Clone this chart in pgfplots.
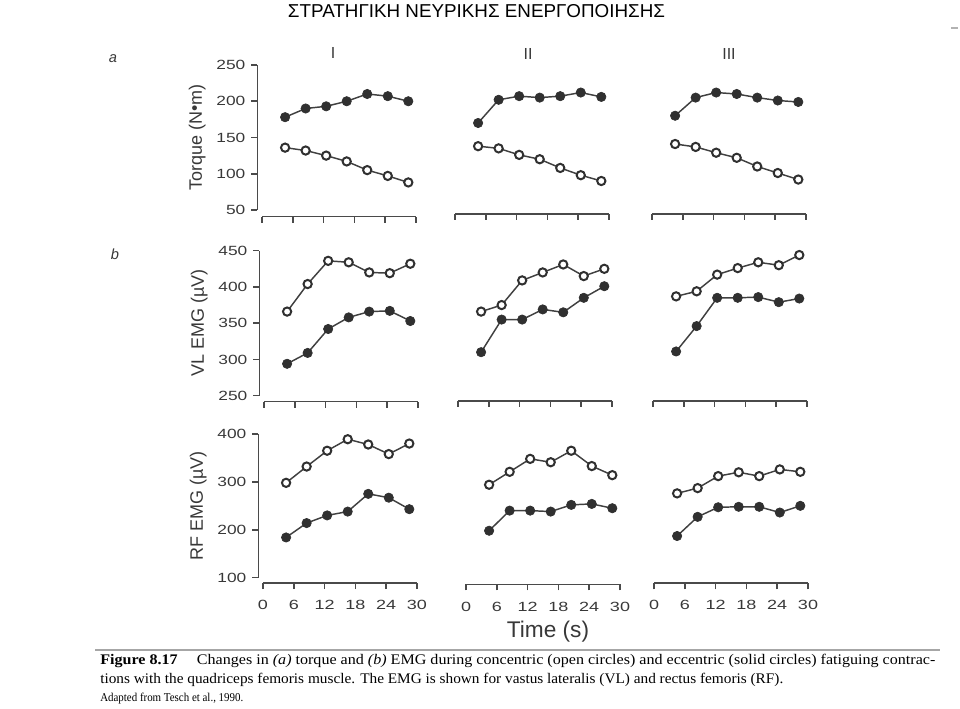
\documentclass[border=0pt]{standalone}
\usepackage{pgfplots}
\pgfplotsset{compat=1.18}
\usepackage{fontspec}
\setmainfont{Liberation Sans}
\newfontfamily\serif{Liberation Serif}
\definecolor{axgray}{HTML}{4a4a4a}
\definecolor{txtgray}{HTML}{383838}
\definecolor{lngray}{HTML}{404040}
\definecolor{mkgray}{HTML}{303030}
\newcommand\ticksize{\fontsize{10pt}{11pt}\selectfont}
\pgfplotsset{
  base/.style={scale only axis, width=115.5pt, xmin=0, xmax=30, xtick={0,6,12,18,24,30},
    axis x line*=bottom, axis y line*=left, tick align=outside, major tick length=4.5pt,
    axis line style={draw=axgray, line width=1.2pt},
    tick style={draw=axgray, line width=1.2pt},
    tick label style={font=\ticksize, text=txtgray},
    /pgf/number format/assume math mode=true,
    yticklabel style={xscale=1.3}, xticklabel style={xscale=1.35, yshift=-5pt},
    clip=false, anchor=south west, axis y line shift=3.4pt,
    ylabel style={at={(axis description cs:-0.42,0.5)}, anchor=center, font=\fontsize{13.5pt}{14pt}\selectfont, text=txtgray}},
  rowa/.style={height=108.75pt, ymin=50, ymax=250, ytick={50,100,150,200,250}},
  rowb/.style={height=108.75pt, ymin=250, ymax=450, ytick={250,300,350,400,450}},
  rowc/.style={height=107.8pt, ymin=100, ymax=400, ytick={100,200,300,400}},
  noy/.style={hide y axis},
  nox/.style={xticklabels={}},
  ecc/.style={color=lngray, line width=1.1pt, mark=*, mark size=3.5pt, mark options={fill=mkgray, draw=mkgray, line width=0.5pt}},
  con/.style={color=lngray, line width=1.1pt, mark=*, mark size=3.1pt, mark options={fill=white, draw=mkgray, line width=1.5pt}},
}
% torque
\pgfplotstableread{
t con ecc
4.5 136 178
8.5 132 190
12.5 125 193
16.5 117 200
20.5 105 210
24.5 97 207
28.5 88 200
}\taI
\pgfplotstableread{
t con ecc
4.5 138 170
8.5 135 202
12.5 126 207
16.5 120 205
20.5 108 207
24.5 98 212
28.5 90 206
}\taII
\pgfplotstableread{
t con ecc
4.5 141 180
8.5 137 205
12.5 129 212
16.5 122 210
20.5 110 205
24.5 101 201
28.5 92 199
}\taIII
% VL EMG
\pgfplotstableread{
t con ecc
4.5 366 294
8.5 404 309
12.5 436 342
16.5 434 358
20.5 420 366
24.5 419 367
28.5 432 353
}\tbI
\pgfplotstableread{
t con ecc
4.5 366 310
8.5 375 355
12.5 409 355
16.5 420 369
20.5 431 365
24.5 415 385
28.5 425 401
}\tbII
\pgfplotstableread{
t con ecc
4.5 387 311
8.5 394 346
12.5 417 385
16.5 426 385
20.5 434 386
24.5 430 379
28.5 444 384
}\tbIII
% RF EMG
\pgfplotstableread{
t con ecc
4.5 298 184
8.5 332 214
12.5 365 230
16.5 389 238
20.5 378 275
24.5 358 267
28.5 380 243
}\tcI
\pgfplotstableread{
t con ecc
4.5 294 198
8.5 321 240
12.5 348 240
16.5 341 238
20.5 365 252
24.5 333 254
28.5 314 245
}\tcII
\pgfplotstableread{
t con ecc
4.5 276 187
8.5 287 227
12.5 312 247
16.5 320 248
20.5 312 248
24.5 326 236
28.5 321 250
}\tcIII
\begin{document}
\begin{tikzpicture}[x=0.75pt,y=0.75pt]
\path[use as bounding box] (0,0) rectangle (960,709);
% title
\node[anchor=center, text=black] at (476.5,698) {\resizebox{282.75pt}{\height}{\fontsize{14pt}{16pt}\selectfont ΣΤΡΑΤΗΓΙΚΗ ΝΕΥΡΙΚΗΣ ΕΝΕΡΓΟΠΟΙΗΣΗΣ}};
\draw[gray!60, line width=1pt] (951,681) -- (958,681);
% panel letters and column heads
\node[text=txtgray, font=\fontsize{11pt}{12pt}\selectfont\itshape] at (113,650) {a};
\node[text=txtgray, font=\fontsize{11pt}{12pt}\selectfont\itshape] at (115,455) {b};
\node[text=txtgray, font=\fontsize{12pt}{12pt}\selectfont] at (333,656) {I};
\node[text=txtgray, font=\fontsize{12pt}{12pt}\selectfont] at (528,655) {II};
\node[text=txtgray, font=\fontsize{12pt}{12pt}\selectfont] at (729,655) {III};
% row a
\begin{axis}[base, rowa, nox, at={(196.5pt,374.25pt)}, axis x line shift=5pt, ylabel={Torque (N\raisebox{0.15ex}{\textbullet}m)}]
\addplot[ecc] table[x=t,y=ecc] {\taI};
\addplot[con] table[x=t,y=con] {\taI};
\end{axis}
\begin{axis}[base, rowa, nox, noy, at={(341.25pt,374.25pt)}, axis x line shift=3pt]
\addplot[ecc] table[x=t,y=ecc] {\taII};
\addplot[con] table[x=t,y=con] {\taII};
\end{axis}
\begin{axis}[base, rowa, nox, noy, at={(489pt,374.25pt)}, axis x line shift=3pt]
\addplot[ecc] table[x=t,y=ecc] {\taIII};
\addplot[con] table[x=t,y=con] {\taIII};
\end{axis}
% row b
\begin{axis}[base, rowb, nox, at={(198pt,234.975pt)}, axis x line shift=4.5pt, ylabel={VL EMG (µV)}]
\addplot[ecc] table[x=t,y=ecc] {\tbI};
\addplot[con] table[x=t,y=con] {\tbI};
\end{axis}
\begin{axis}[base, rowb, nox, noy, at={(343.5pt,234.975pt)}, axis x line shift=3.8pt]
\addplot[ecc] table[x=t,y=ecc] {\tbII};
\addplot[con] table[x=t,y=con] {\tbII};
\end{axis}
\begin{axis}[base, rowb, nox, noy, at={(489.75pt,234.975pt)}, axis x line shift=3.8pt]
\addplot[ecc] table[x=t,y=ecc] {\tbIII};
\addplot[con] table[x=t,y=con] {\tbIII};
\end{axis}
% row c
\begin{axis}[base, rowc, at={(197.25pt,98.475pt)}, axis x line shift=4pt, ylabel={RF EMG (µV)}]
\addplot[ecc] table[x=t,y=ecc] {\tcI};
\addplot[con] table[x=t,y=con] {\tcI};
\end{axis}
\begin{axis}[base, rowc, noy, at={(349.5pt,98.475pt)}, axis x line shift=5pt]
\addplot[ecc] table[x=t,y=ecc] {\tcII};
\addplot[con] table[x=t,y=con] {\tcII};
\end{axis}
\begin{axis}[base, rowc, noy, at={(490.5pt,98.475pt)}, axis x line shift=4.2pt]
\addplot[ecc] table[x=t,y=ecc] {\tcIII};
\addplot[con] table[x=t,y=con] {\tcIII};
\end{axis}
\node[text=txtgray, font=\fontsize{17pt}{18pt}\selectfont] at (548,77) {Time (s)};
% caption
\draw[gray!70, line width=1.5pt] (95,59) -- (940,59);
\node[anchor=base west, inner sep=0pt] at (100,44) {\resizebox{626.25pt}{\height}{\serif\fontsize{11pt}{12pt}\selectfont\textbf{Figure 8.17}\hspace{1.2em}Changes in \textit{(a)} torque and \textit{(b)} EMG during concentric (open circles) and eccentric (solid circles) fatiguing contrac-}};
\node[anchor=base west, inner sep=0pt] at (100,25) {\resizebox{512.25pt}{\height}{\serif\fontsize{11pt}{12pt}\selectfont tions with the quadriceps femoris muscle. The EMG is shown for vastus lateralis (VL) and rectus femoris (RF).}};
\node[anchor=base west, inner sep=0pt] at (100,7) {\resizebox{107.25pt}{\height}{\serif\fontsize{9pt}{10pt}\selectfont Adapted from Tesch et al., 1990.}};
\end{tikzpicture}
\end{document}
